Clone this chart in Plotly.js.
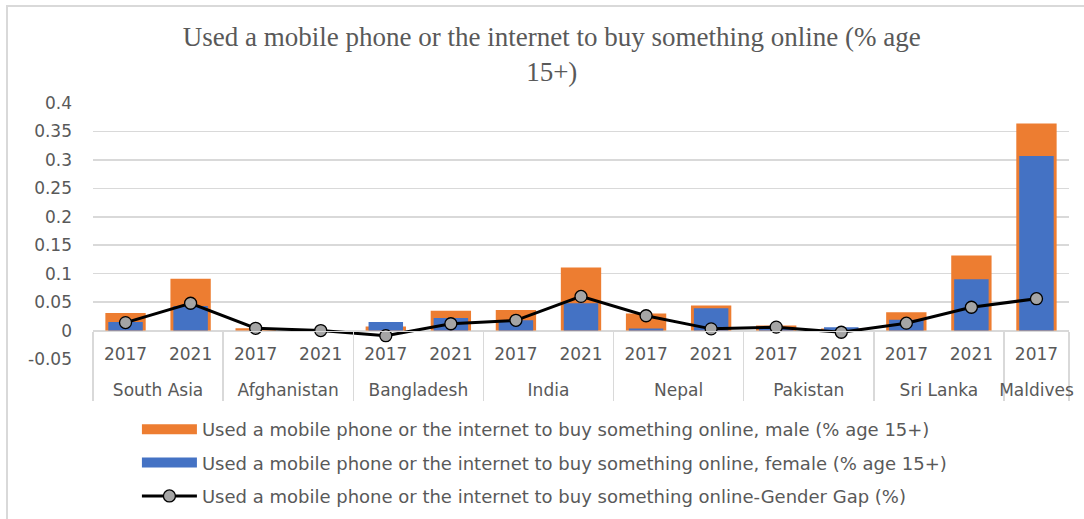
<!DOCTYPE html>
<html>
<head>
<meta charset="utf-8">
<script src="https://cdn.plot.ly/plotly-3.0.1.min.js"></script>
<style>
  html, body { margin: 0; padding: 0; background: #ffffff; }
  #chart { width: 1084px; height: 519px; }
</style>
</head>
<body>
<div id="chart"></div>
<script>
// ---- data ----
const groupLabels = ["South Asia","South Asia","Afghanistan","Afghanistan","Bangladesh","Bangladesh",
  "India","India","Nepal","Nepal","Pakistan","Pakistan","Sri Lanka","Sri Lanka","Maldives"];
const yearLabels = ["2017","2021","2017","2021","2017","2021","2017","2021","2017","2021",
  "2017","2021","2017","2021","2017"];
const maleValues   = [0.031, 0.091, 0.004, 0.000, 0.007, 0.035, 0.036, 0.111, 0.030, 0.044, 0.009, 0.0035, 0.032, 0.132, 0.364];
const femaleValues = [0.015, 0.043, 0.000, 0.000, 0.015, 0.022, 0.018, 0.048, 0.0035, 0.039, 0.003, 0.006, 0.019, 0.090, 0.307];
const gapValues    = [0.014, 0.048, 0.004, 0.000, -0.009, 0.012, 0.018, 0.060, 0.026, 0.003, 0.006, -0.003, 0.013, 0.041, 0.056];
const yTickVals = [-0.05, 0, 0.05, 0.1, 0.15, 0.2, 0.25, 0.3, 0.35, 0.4];
const yTickText = ["-0.05", "0", "0.05", "0.1", "0.15", "0.2", "0.25", "0.3", "0.35", "0.4"];
const seriesNames = [
  "Used a mobile phone or the internet to buy something online, male (% age 15+)",
  "Used a mobile phone or the internet to buy something online, female (% age 15+)",
  "Used a mobile phone or the internet to buy something online-Gender Gap (%)"
];
const chartTitle = "Used a mobile phone or the internet to buy something online (% age<br>15+)";

// second-level labels sit one extra line lower, as in the reference
const xCats = [groupLabels.map(g => "<br>" + g), yearLabels];
const tickFontFamily = "DejaVu Sans, Liberation Sans, sans-serif";
const textColor = "#595959";
const maleColor = "#ED7D31";
const femaleColor = "#4472C4";

const traces = [
  {
    type: "bar", name: seriesNames[0], x: xCats, y: maleValues,
    marker: { color: maleColor }, width: 0.62, showlegend: false
  },
  {
    type: "bar", name: seriesNames[1], x: xCats, y: femaleValues,
    marker: { color: femaleColor }, width: 0.53, showlegend: false
  },
  // legend keys drawn as wide colour swatches (Excel style)
  {
    type: "scatter", mode: "lines", name: seriesNames[0], x: [null], y: [null],
    line: { color: maleColor, width: 10 }, legendgroup: "m", hoverinfo: "skip"
  },
  {
    type: "scatter", mode: "lines", name: seriesNames[1], x: [null], y: [null],
    line: { color: femaleColor, width: 10 }, legendgroup: "f", hoverinfo: "skip"
  },
  {
    type: "scatter", mode: "lines+markers", name: seriesNames[2], x: xCats, y: gapValues,
    line: { color: "#000000", width: 3 },
    marker: { size: 12, color: "#A5A5A5", line: { color: "#000000", width: 1.3 } },
    legendgroup: "g"
  }
];

const layout = {
  width: 1084, height: 519,
  paper_bgcolor: "#ffffff", plot_bgcolor: "#ffffff",
  margin: { l: 93, r: 15, t: 103, b: 160, pad: 0, autoexpand: false },
  barmode: "overlay",
  title: {
    text: chartTitle,
    font: { family: "Liberation Serif, Times New Roman, serif", size: 27, color: textColor },
    xref: "container", x: 0.509, xanchor: "center",
    yref: "container", y: 0.912, yanchor: "top"
  },
  xaxis: {
    type: "multicategory",
    range: [-0.5, 14.5],
    anchor: "free", position: 0.05 / 0.45,
    showline: true, linecolor: "#d9d9d9", linewidth: 1,
    showgrid: false, ticks: "",
    ticklabelstandoff: 8,
    showdividers: true, dividercolor: "#d9d9d9", dividerwidth: 1.5,
    tickfont: { family: tickFontFamily, size: 17, color: textColor }
  },
  yaxis: {
    range: [-0.05, 0.4],
    tickvals: yTickVals, ticktext: yTickText,
    showgrid: true, gridcolor: "#d9d9d9", gridwidth: 1.5,
    zeroline: false, showline: false, ticks: "",
    ticklabelstandoff: 20,
    tickfont: { family: tickFontFamily, size: 17, color: textColor }
  },
  showlegend: true,
  legend: {
    orientation: "v",
    x: 0.045, xanchor: "left",
    y: -0.203, yanchor: "top",
    itemwidth: 55,
    traceorder: "grouped", tracegroupgap: 7,
    font: { family: tickFontFamily, size: 18, color: textColor },
    bgcolor: "rgba(0,0,0,0)"
  },
  shapes: [
    {
      type: "rect", xref: "paper", yref: "paper", layer: "below",
      x0: (7 - 93) / 976, x1: (1110 - 93) / 976,
      y0: (359 - 530) / 256, y1: (359 - 6) / 256,
      line: { color: "#d9d9d9", width: 2 }, fillcolor: "rgba(0,0,0,0)"
    }
  ]
};

Plotly.newPlot("chart", traces, layout, { displayModeBar: false, staticPlot: true });
</script>
</body>
</html>
